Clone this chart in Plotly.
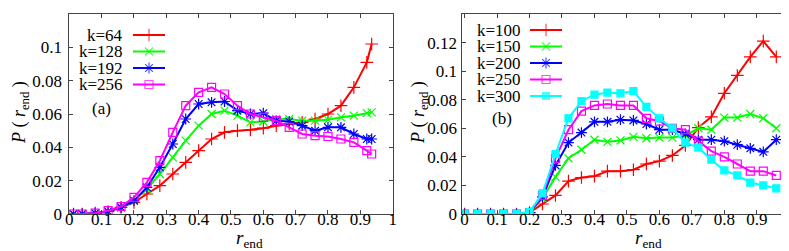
import plotly.graph_objects as go

# ---------------- data ----------------
r_a = [0.013, 0.04, 0.08, 0.12, 0.16, 0.20, 0.24, 0.28, 0.32, 0.36, 0.40, 0.44, 0.48,
       0.52, 0.56, 0.60, 0.64, 0.68, 0.72, 0.76, 0.80, 0.84, 0.88, 0.92, 0.935]
k64 = [0, 0, 0.0005, 0.0015, 0.004, 0.007, 0.012, 0.017, 0.024, 0.031, 0.038, 0.045, 0.049,
       0.050, 0.0505, 0.0515, 0.053, 0.054, 0.055, 0.057, 0.060, 0.065, 0.076, 0.091, 0.102]
k128 = [0, 0, 0.0005, 0.0015, 0.004, 0.008, 0.015, 0.024, 0.034, 0.044, 0.053, 0.060, 0.062,
        0.059, 0.055, 0.0555, 0.057, 0.057, 0.056, 0.056, 0.0565, 0.058, 0.059, 0.0605, 0.061]
k192 = [0, 0, 0.0005, 0.0015, 0.004, 0.008, 0.016, 0.028, 0.042, 0.057, 0.066, 0.067, 0.0675,
        0.062, 0.060, 0.0605, 0.056, 0.0555, 0.053, 0.050, 0.052, 0.052, 0.048, 0.045, 0.045]
k256 = [0, 0, 0.0005, 0.002, 0.0045, 0.010, 0.019, 0.032, 0.049, 0.065, 0.073, 0.076, 0.072,
        0.065, 0.060, 0.058, 0.056, 0.052, 0.048, 0.047, 0.0465, 0.045, 0.043, 0.038, 0.036]

r_b = [0.00, 0.04, 0.08, 0.12, 0.16, 0.20, 0.24, 0.28, 0.32, 0.36, 0.40, 0.44, 0.48,
       0.52, 0.56, 0.60, 0.64, 0.68, 0.72, 0.76, 0.80, 0.84, 0.88, 0.92, 0.96]
k100 = [0, 0, 0, 0, 0, 0.001, 0.007, 0.013, 0.023, 0.0255, 0.0265, 0.030, 0.030,
        0.031, 0.035, 0.037, 0.041, 0.048, 0.0605, 0.068, 0.0845, 0.097, 0.110, 0.121, 0.110]
k150 = [0, 0, 0, 0, 0, 0.001, 0.011, 0.026, 0.039, 0.045, 0.052, 0.0505, 0.0515,
        0.054, 0.053, 0.0535, 0.0535, 0.055, 0.060, 0.059, 0.0675, 0.0675, 0.070, 0.067, 0.060]
k200 = [0, 0, 0, 0, 0, 0.001, 0.012, 0.034, 0.050, 0.057, 0.0645, 0.0645, 0.066,
        0.0655, 0.063, 0.059, 0.059, 0.056, 0.052, 0.052, 0.051, 0.0485, 0.046, 0.0435, 0.052]
k250 = [0, 0, 0, 0, 0, 0.001, 0.013, 0.039, 0.059, 0.072, 0.076, 0.077, 0.076,
        0.076, 0.067, 0.065, 0.060, 0.059, 0.051, 0.044, 0.040, 0.035, 0.030, 0.030, 0.027]
k300 = [0, 0, 0, 0, 0, 0.0015, 0.0145, 0.042, 0.067, 0.079, 0.0835, 0.085, 0.0845,
        0.086, 0.075, 0.067, 0.060, 0.050, 0.0465, 0.038, 0.0305, 0.027, 0.022, 0.020, 0.018]

labels_a = ["k=64", "k=128", "k=192", "k=256"]
labels_b = ["k=100", "k=150", "k=200", "k=250", "k=300"]
x_ticks = [0, 0.1, 0.2, 0.3, 0.4, 0.5, 0.6, 0.7, 0.8, 0.9, 1]
y_ticks_a = [0, 0.02, 0.04, 0.06, 0.08, 0.1, 0.12]
y_ticks_b = [0, 0.02, 0.04, 0.06, 0.08, 0.1, 0.12, 0.14]

# ---------------- styles ----------------
W, H = 789, 251
FONT = "Liberation Serif, Times New Roman, Times, serif"
FS = 17
colors_a = ["#ff0000", "#00ff00", "#0000ff", "#ff00ff"]
symbols_a = ["cross-thin-open", "x-thin-open", "asterisk-open", "square-open"]
sizes_a = [9, 8, 9, 8]
colors_b = ["#ff0000", "#00ff00", "#0000ff", "#ff00ff", "#00ffff"]
symbols_b = ["cross-thin-open", "x-thin-open", "asterisk-open", "square-open", "square"]
sizes_b = [9, 8, 9, 8, 7]


def px_x(p):
    return p / W


def px_y(p):
    return 1 - p / H


fig = go.Figure()

series_a = [k64, k128, k192, k256]
series_b = [k100, k150, k200, k250, k300]

for ys, c, s, sz in zip(series_a, colors_a, symbols_a, sizes_a):
    fig.add_trace(go.Scatter(x=r_a, y=ys, mode="lines+markers", xaxis="x", yaxis="y",
                             line=dict(color=c, width=2),
                             marker=dict(symbol=s, size=sz, color=c, line=dict(color=c, width=1.2)),
                             showlegend=False))
for ys, c, s, sz in zip(series_b, colors_b, symbols_b, sizes_b):
    fig.add_trace(go.Scatter(x=r_b, y=ys, mode="lines+markers", xaxis="x2", yaxis="y2",
                             line=dict(color=c, width=2),
                             marker=dict(symbol=s, size=sz, color=c, line=dict(color=c, width=1.2)),
                             showlegend=False))

# ---------------- custom legends (text left of key) ----------------
annotations = []
leg_a = dict(text_right=117, x0=125, x1=157, rows=[27, 43.5, 60, 76.5])
leg_b = dict(text_right=515, x0=522, x1=554, rows=[22, 38.5, 55, 71.5, 88])


def add_legend(leg, labels, colors, symbols, sizes):
    for lab, c, s, sz, yy in zip(labels, colors, symbols, sizes, leg["rows"]):
        xm = (leg["x0"] + leg["x1"]) / 2
        fig.add_trace(go.Scatter(x=[leg["x0"], xm, leg["x1"]], y=[yy, yy, yy],
                                 mode="lines+markers", xaxis="x3", yaxis="y3",
                                 line=dict(color=c, width=2),
                                 marker=dict(symbol=s, size=[0, sz, 0], color=c,
                                             line=dict(color=c, width=1.2)),
                                 showlegend=False, hoverinfo="skip"))
        annotations.append(dict(text=lab, x=px_x(leg["text_right"]), y=px_y(yy),
                                xref="paper", yref="paper", xanchor="right", yanchor="middle",
                                showarrow=False, font=dict(family=FONT, size=FS, color="black")))


add_legend(leg_a, labels_a, colors_a, symbols_a, sizes_a)
add_legend(leg_b, labels_b, colors_b, symbols_b, sizes_b)


def label(text, xc, yc, size, angle=0, yanchor="middle"):
    annotations.append(dict(text=text, x=px_x(xc), y=px_y(yc), xref="paper", yref="paper",
                            xanchor="center", yanchor=yanchor, textangle=angle,
                            showarrow=False, font=dict(family=FONT, size=size, color="black")))


# panel labels
label("(a)", 93, 100, FS)
label("(b)", 494, 110, FS)

# axis titles
ytitle = "<i>P</i> ( <i>r</i><sub>end</sub> )"
xtitle = "<i>r</i><sub>end</sub>"
for xc in (12, 411):
    label(ytitle, xc, 105, 18, angle=-90)
for xc in (241, 640):
    label(xtitle, xc, 245, 19, yanchor="bottom")

frame = dict(showline=True, linecolor="#444", linewidth=1, mirror="ticks", ticks="inside",
             ticklen=4, tickcolor="#444", tickwidth=1, showgrid=False, zeroline=False,
             tickfont=dict(family=FONT, size=FS, color="black"), automargin=False)

ydom = [px_y(206), px_y(6)]
fig.update_layout(
    width=W, height=H, autosize=False,
    margin=dict(l=0, r=0, t=0, b=0),
    paper_bgcolor="white", plot_bgcolor="rgba(0,0,0,0)",
    font=dict(family=FONT),
    xaxis=dict(domain=[px_x(61.3), px_x(384.7)], range=[0, 1.0001], tickvals=x_ticks,
               anchor="y", ticklabelstandoff=-10, **frame),
    yaxis=dict(domain=ydom, range=[0, 0.12001], tickvals=y_ticks_a, anchor="x",
               ticklabelstandoff=3, **frame),
    xaxis2=dict(domain=[px_x(454.3), px_x(781.3)], range=[-0.007, 1.0001], tickvals=x_ticks,
                anchor="y2", ticklabelstandoff=-10, **frame),
    yaxis2=dict(domain=ydom, range=[0, 0.14001], tickvals=y_ticks_b, anchor="x2",
                ticklabelstandoff=1, **frame),
    xaxis3=dict(domain=[0, 1], range=[0, W], visible=False, anchor="y3"),
    yaxis3=dict(domain=[0, 1], range=[H, 0], visible=False, anchor="x3"),
    annotations=annotations,
)

fig.write_html("out.html")
